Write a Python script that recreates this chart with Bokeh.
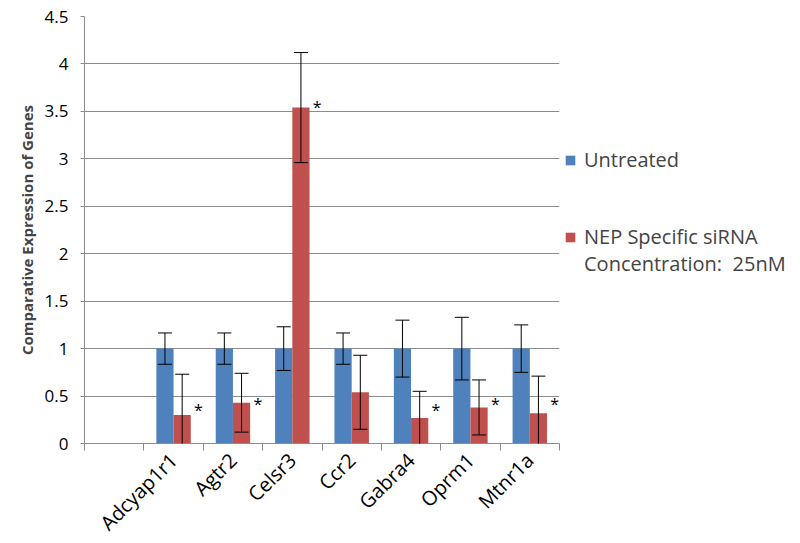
from bokeh.plotting import figure
from bokeh.models import (ColumnDataSource, Range1d, LinearAxis, FixedTicker, Whisker, TeeHead,
                          Legend, LegendItem)
from bokeh.core.properties import value
from bokeh.embed import file_html
from bokeh.resources import INLINE
from math import pi

# ---- data ----
categories = ["", "Adcyap1r1", "Agtr2", "Celsr3", "Ccr2", "Gabra4", "Oprm1", "Mtnr1a"]
genes = categories[1:]
untreated = [1.0, 1.0, 1.0, 1.0, 1.0, 1.0, 1.0]
untreated_err = [0.165, 0.165, 0.23, 0.165, 0.30, 0.33, 0.25]
sirna = [0.30, 0.43, 3.54, 0.54, 0.27, 0.38, 0.32]
sirna_err = [0.43, 0.31, 0.58, 0.39, 0.28, 0.29, 0.39]
star_genes = ["Adcyap1r1", "Agtr2", "Celsr3", "Gabra4", "Oprm1", "Mtnr1a"]
star_y = [0.35, 0.42, 3.55, 0.35, 0.42, 0.42]
y_ticks = [0, 0.5, 1, 1.5, 2, 2.5, 3, 3.5, 4, 4.5]
y_tick_labels = ["0", "0.5", "1", "1.5", "2", "2.5", "3", "3.5", "4", "4.5"]
series_names = ["Untreated", "NEP Specific siRNA", "Concentration:  25nM"]

BLUE = "#4F81BD"
RED = "#C0504D"
GRAY = "#8C8C8C"
FONT = "Open Sans"
BAR_W = 0.29
STAR_OFF = 0.42

# category slot centres on the numeric category scale
center = {c: i + 0.5 for i, c in enumerate(categories)}
gx = [center[g] for g in genes]

src = ColumnDataSource(dict(
    xu=[x - BAR_W / 2 for x in gx],
    xs=[x + BAR_W / 2 for x in gx],
    u=untreated,
    u_up=[v + e for v, e in zip(untreated, untreated_err)],
    u_lo=[v - e for v, e in zip(untreated, untreated_err)],
    s=sirna,
    s_up=[v + e for v, e in zip(sirna, sirna_err)],
    s_lo=[v - e for v, e in zip(sirna, sirna_err)],
))
star_src = ColumnDataSource(dict(x=[center[g] + STAR_OFF for g in star_genes], y=star_y))

p = figure(frame_width=475, frame_height=427, x_range=Range1d(0, len(categories)),
           y_range=Range1d(0, 4.5), output_backend="svg", toolbar_location=None,
           x_axis_location=None, min_border_left=84, min_border_right=241,
           min_border_top=16, min_border_bottom=100)
p.outline_line_color = None
p.xgrid.visible = False

# y axis
p.yaxis.ticker = FixedTicker(ticks=y_ticks)
p.yaxis.major_label_overrides = {t: l for t, l in zip(y_ticks, y_tick_labels)}
p.yaxis.axis_label = "Comparative Expression of Genes"
p.yaxis.axis_label_text_font = FONT
p.yaxis.axis_label_text_font_style = "bold"
p.yaxis.axis_label_text_font_size = "15px"
p.yaxis.axis_label_standoff = 5
p.yaxis.major_label_text_font = FONT
p.yaxis.major_label_text_font_size = "17px"
p.yaxis.major_label_text_color = "black"
p.yaxis.major_label_standoff = 12
p.yaxis.axis_line_color = GRAY
p.yaxis.major_tick_line_color = GRAY
p.yaxis.major_tick_out = 4
p.yaxis.major_tick_in = 0
p.yaxis.minor_tick_line_color = None
p.ygrid.grid_line_color = GRAY
p.ygrid.grid_line_width = 1

# x axis: category names at slot centres, tick marks on the category boundaries
label_pos = [center[c] for c in categories]
xaxis = LinearAxis(ticker=FixedTicker(ticks=label_pos, minor_ticks=list(range(len(categories) + 1))),
                   major_label_overrides={t: c for t, c in zip(label_pos, categories)},
                   major_tick_line_color=None, major_tick_out=0, major_tick_in=0,
                   minor_tick_line_color=GRAY, minor_tick_out=7, minor_tick_in=0,
                   axis_line_color=GRAY, major_label_orientation=pi / 4,
                   major_label_standoff=6, major_label_text_font=FONT,
                   major_label_text_font_size="20px", major_label_text_color="black")
p.add_layout(xaxis, "below")

# bars
r1 = p.vbar(x="xu", top="u", width=BAR_W, source=src, fill_color=BLUE, line_color=None)
r2 = p.vbar(x="xs", top="s", width=BAR_W, source=src, fill_color=RED, line_color=None)
blank = p.vbar(x=[], top=[], width=BAR_W, fill_alpha=0, line_alpha=0)

# error bars
for xcol, up, lo in [("xu", "u_up", "u_lo"), ("xs", "s_up", "s_lo")]:
    p.add_layout(Whisker(base=xcol, upper=up, lower=lo, source=src,
                         line_color="black", line_width=1, level="overlay",
                         upper_head=TeeHead(size=14, line_color="black", line_width=1),
                         lower_head=TeeHead(size=14, line_color="black", line_width=1)))

# significance stars
p.text(x="x", y="y", text=value("*"), source=star_src,
       text_font=value(FONT), text_font_size="16px", text_color="black",
       text_align="center", text_baseline="middle")

# legend (blank rows give the spacing of the original legend)
items = [LegendItem(label=" " * (k + 1), renderers=[blank]) for k in range(5)]
items += [LegendItem(label=series_names[0], renderers=[r1]),
          LegendItem(label="      ", renderers=[blank]),
          LegendItem(label="       ", renderers=[blank]),
          LegendItem(label=series_names[1], renderers=[r2]),
          LegendItem(label=series_names[2], renderers=[blank])]
legend = Legend(items=items, location="top_left", orientation="vertical", spacing=0,
                glyph_width=12, glyph_height=12, label_height=25, label_standoff=8,
                padding=0, margin=5,
                label_text_font=FONT, label_text_font_size="20px",
                background_fill_alpha=0, border_line_color=None)
p.add_layout(legend, "right")

open("out.html", "w").write(file_html(p, INLINE))
